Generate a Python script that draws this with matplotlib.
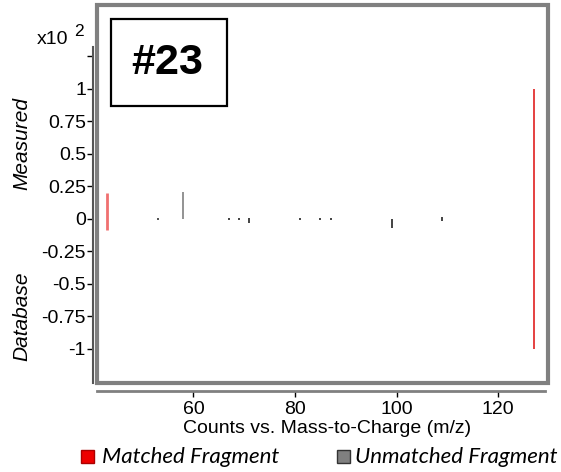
import matplotlib.pyplot as plt
from matplotlib.patches import Rectangle

plt.rcParams['font.family'] = ['Liberation Sans', 'DejaVu Sans']

# matched fragments (m/z, measured top, database bottom), units of x10^2
matched_mz = [43, 127]
matched_measured = [0.20, 1.00]
matched_database = [-0.085, -1.00]
matched_colors = ['#f07070', '#e02020']
matched_widths = [2.0, 1.2]

# unmatched fragments
unmatched_mz = [53, 58, 67, 69, 71, 81, 85, 87, 99, 109]
unmatched_measured = [0.008, 0.205, 0.01, 0.01, 0.005, 0.008, 0.01, 0.01, 0.0, 0.012]
unmatched_database = [-0.008, 0.0, -0.008, -0.008, -0.03, -0.005, -0.01, -0.01, -0.07, -0.012]
unmatched_colors = ['#333333', '#808080'] + ['#222222'] * 8

yticks = [-1, -0.75, -0.5, -0.25, 0, 0.25, 0.5, 0.75, 1, 1.25]
ytick_labels = ['-1', '-0.75', '-0.5', '-0.25', '0', '0.25', '0.5', '0.75', '1', '']
xticks = [60, 80, 100, 120]

fig = plt.figure(figsize=(5.61, 4.72), dpi=100)
W, H = 561, 472
ax = fig.add_axes([97 / W, 1 - 383 / H, (548 - 97) / W, (383 - 5) / H])

ax.vlines(unmatched_mz, unmatched_database, unmatched_measured,
          colors=unmatched_colors, linewidth=1.2)
ax.vlines(matched_mz, matched_database, matched_measured,
          colors=matched_colors, linewidth=matched_widths)

ax.set_xlim(41.0, 129.8)
ax.set_ylim(-1.262, 1.646)

for s in ['top', 'right']:
    ax.spines[s].set_visible(False)
ax.spines['left'].set_position(('outward', 3))
ax.spines['left'].set_bounds(-1.262, 1.32)
ax.spines['bottom'].set_position(('outward', 6))
ax.spines['bottom'].set_bounds(41.0, 129.3)
ax.spines['left'].set_color('#555555')
ax.spines['bottom'].set_color('#808080')
ax.spines['bottom'].set_linewidth(2)
ax.spines['left'].set_linewidth(1.5)

frame = Rectangle((0, 0), 1, 1, transform=ax.transAxes, fill=False,
                  edgecolor='#808080', linewidth=3, clip_on=False)
ax.add_patch(frame)

ax.set_yticks(yticks)
ax.set_yticklabels(ytick_labels)
ax.set_xticks(xticks)
ax.tick_params(axis='y', labelsize=14, length=4, width=1, pad=1)
ax.tick_params(axis='x', labelsize=14, length=4, width=1, pad=3)

# x axis title placed just under the tick labels
fig.text(327 / W, 1 - 420 / H, 'Counts vs. Mass-to-Charge (m/z)',
         fontsize=14, ha='center', va='top')

fig.text(22 / W, 1 - 143 / H, 'Measured', rotation=90, style='italic',
         fontsize=15, ha='center', va='center')
fig.text(22 / W, 1 - 316 / H, 'Database', rotation=90, style='italic',
         fontsize=15, ha='center', va='center')
fig.text(37 / W, 1 - 39 / H, 'x10', fontsize=14, ha='left', va='center')
fig.text(74 / W, 1 - 32 / H, '2', fontsize=12.5, ha='left', va='center')

# label box
fig.add_artist(Rectangle((111 / W, 1 - 106 / H), 116 / W, 87 / H,
                         facecolor='white', edgecolor='black', lw=1.6))
fig.text(167 / W, 1 - 63 / H, '#23', fontsize=31, fontweight='bold',
         ha='center', va='center')

# legend
fig.add_artist(Rectangle((81 / W, 1 - 463 / H), 13 / W, 13 / H,
                         facecolor='#ee0000', edgecolor='#aa0000', lw=1))
fig.text(102 / W, 1 - 457 / H, 'Matched Fragment', style='italic',
         fontsize=16, ha='left', va='center', family=['Lato', 'DejaVu Sans'])
fig.add_artist(Rectangle((337 / W, 1 - 463 / H), 13 / W, 13 / H,
                         facecolor='#808080', edgecolor='#333333', lw=1))
fig.text(355 / W, 1 - 457 / H, 'Unmatched Fragment', style='italic',
         fontsize=16, ha='left', va='center', family=['Lato', 'DejaVu Sans'])

plt.savefig('out.png', dpi=100)
